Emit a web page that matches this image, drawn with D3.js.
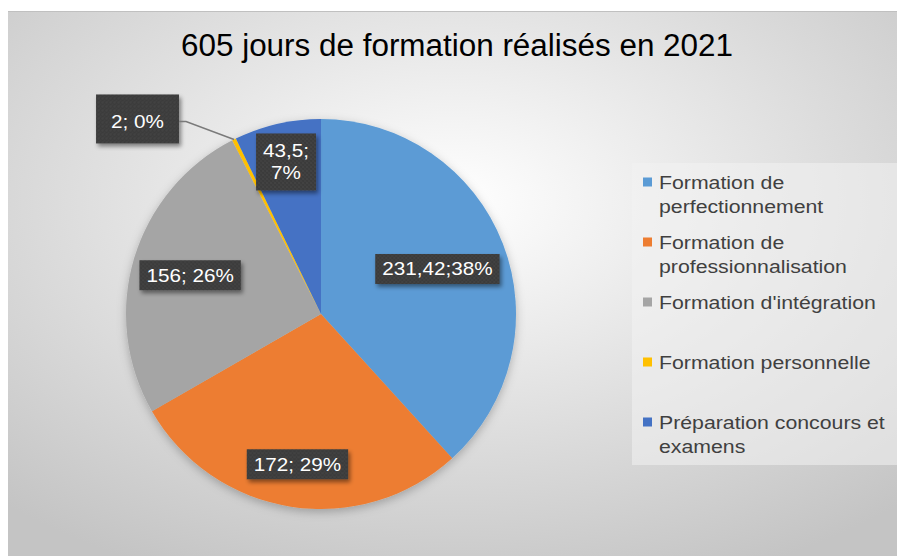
<!DOCTYPE html>
<html>
<head>
<meta charset="utf-8">
<script src="https://cdn.jsdelivr.net/npm/d3@7"></script>
<style>
  body { margin: 0; background: #fff; }
  svg { display: block; font-family: "Liberation Sans", Arial, sans-serif; }
</style>
</head>
<body>
<script>
let w = 897;
let h = 556;

let title = "605 jours de formation réalisés en 2021";
let categories = [
  "Formation de perfectionnement",
  "Formation de professionnalisation",
  "Formation d'intégration",
  "Formation personnelle",
  "Préparation concours et examens"
];
let values = [231.42, 172, 156, 2, 43.5];
let labels = ["231,42;38%", "172; 29%", "156; 26%", "2; 0%", "43,5;\n7%"];
let colors = ["#5b9bd5", "#ed7d31", "#a5a5a5", "#ffc000", "#4472c4"];

let cx = 321, cy = 314, r = 195;
let sx = 1.15; // the picture's text is a little wide

let svg = d3.select("body").append("svg")
  .attr("width", w)
  .attr("height", h);

let defs = svg.append("defs");

// chart background
let bg = defs.append("radialGradient")
  .attr("id", "bg")
  .attr("cx", "0.5").attr("cy", "0.35").attr("r", "0.75");
bg.append("stop").attr("offset", "0").attr("stop-color", "#ffffff");
bg.append("stop").attr("offset", "1").attr("stop-color", "#c4c4c4");

// dotted texture for label boxes
let pat = defs.append("pattern")
  .attr("id", "dots")
  .attr("width", 4).attr("height", 4)
  .attr("patternUnits", "userSpaceOnUse");
pat.append("rect").attr("width", 4).attr("height", 4).attr("fill", "#3b3b3b");
pat.append("circle").attr("cx", 1).attr("cy", 1).attr("r", 0.8).attr("fill", "#4c4c4c");
pat.append("circle").attr("cx", 3).attr("cy", 3).attr("r", 0.8).attr("fill", "#474747");

let sh = defs.append("filter").attr("id", "shadow")
  .attr("x", "-20%").attr("y", "-20%").attr("width", "150%").attr("height", "160%");
sh.append("feDropShadow")
  .attr("dx", 2).attr("dy", 3).attr("stdDeviation", 2)
  .attr("flood-color", "#000").attr("flood-opacity", 0.45);

let pieShadow = defs.append("filter").attr("id", "pieShadow")
  .attr("x", "-20%").attr("y", "-20%").attr("width", "140%").attr("height", "140%");
pieShadow.append("feDropShadow")
  .attr("dx", 0).attr("dy", 3).attr("stdDeviation", 5)
  .attr("flood-color", "#000").attr("flood-opacity", 0.25);

svg.append("rect")
  .attr("x", 8).attr("y", 11)
  .attr("width", w - 8).attr("height", h - 11)
  .attr("fill", "url(#bg)");
svg.append("line")
  .attr("x1", 8).attr("x2", w)
  .attr("y1", 11.5).attr("y2", 11.5)
  .attr("stroke", "#c0c0c0");

// Title
svg.append("text")
  .attr("x", 457).attr("y", 56)
  .attr("text-anchor", "middle")
  .attr("font-size", 31)
  .attr("fill", "#000")
  .attr("textLength", 552)
  .attr("lengthAdjust", "spacingAndGlyphs")
  .text(title);

// Pie
let pie = d3.pie().sort(null).value((d) => d);
let arcs = pie(values);
let arc = d3.arc().innerRadius(0).outerRadius(r);

let g = svg.append("g").attr("transform", "translate(" + cx + "," + cy + ")");

g.append("g")
  .attr("filter", "url(#pieShadow)")
  .selectAll("path")
  .data(arcs)
  .enter()
  .append("path")
  .attr("d", arc)
  .attr("fill", (d, i) => colors[i]);

// label placement (fraction of radius along bisector), outside for tiny slice
let labelR = [0.64, 0.78, 0.70, null, 0.80];
let fs = 18;
let lineH = 22;

function mid(d) { return (d.startAngle + d.endAngle) / 2; }

arcs.forEach((d, i) => {
  let lines = labels[i].split("\n");
  let lg = svg.append("g");
  let txt = lg.append("text")
    .attr("fill", "#fff")
    .attr("font-size", fs)
    .attr("text-anchor", "middle")
    .attr("transform", "scale(" + sx + ",1)");
  lines.forEach((l, k) => {
    txt.append("tspan")
      .attr("x", 0)
      .attr("y", (k - (lines.length - 1) / 2) * lineH + fs * 0.36)
      .text(l);
  });
  let tw = d3.max(txt.selectAll("tspan").nodes(), (n) => n.getComputedTextLength()) * sx;
  let bw = tw + 14;
  let bh = lines.length > 1 ? 57 : 30;
  let a = mid(d);
  let px, py;
  let top = -bh / 2;
  if (labelR[i] !== null) {
    px = cx + Math.sin(a) * r * labelR[i];
    py = cy - Math.cos(a) * r * labelR[i];
  } else {
    // outside label with leader line
    bh = 49;
    bw = 83;
    top = -27;
    let ox = cx + Math.sin(a) * r;
    let oy = cy - Math.cos(a) * r;
    let ex = ox - 48, ey = oy - 18;
    px = ex - 7 - bw / 2;
    py = ey;
    svg.append("polyline")
      .attr("points", [[ox, oy], [ex, ey], [ex - 7, ey]].map((p) => p.join(",")).join(" "))
      .attr("fill", "none")
      .attr("stroke", "#7a7a7a")
      .attr("stroke-width", 1.5);
  }
  lg.attr("transform", "translate(" + px + "," + py + ")");
  lg.insert("rect", "text")
    .attr("x", -bw / 2)
    .attr("y", top)
    .attr("width", bw)
    .attr("height", bh)
    .attr("fill", "url(#dots)")
    .attr("filter", "url(#shadow)");
});

// Legend
let lx = 643, ly = 182, step = 60, maxW = 234;
svg.append("rect")
  .attr("x", 632).attr("y", 163)
  .attr("width", w - 632).attr("height", 302)
  .attr("fill", "#f2f2f2")
  .attr("fill-opacity", 0.55);

categories.forEach((c, i) => {
  let y = ly + i * step;
  svg.append("rect")
    .attr("x", lx).attr("y", y - 4.5)
    .attr("width", 9).attr("height", 9)
    .attr("fill", colors[i]);
  let t = svg.append("text")
    .attr("transform", "translate(" + (lx + 16) + "," + y + ") scale(" + sx + ",1)")
    .attr("font-size", 18.5)
    .attr("fill", "#404040");
  let words = c.split(" ");
  let line = [];
  let k = 0;
  let ts = t.append("tspan").attr("x", 0).attr("y", 6.5);
  words.forEach((wd) => {
    line.push(wd);
    ts.text(line.join(" "));
    if (ts.node().getComputedTextLength() * sx > maxW && line.length > 1) {
      line.pop();
      ts.text(line.join(" "));
      line = [wd];
      k++;
      ts = t.append("tspan").attr("x", 0).attr("y", 6.5 + k * 24.5).text(wd);
    }
  });
});
</script>
</body>
</html>
